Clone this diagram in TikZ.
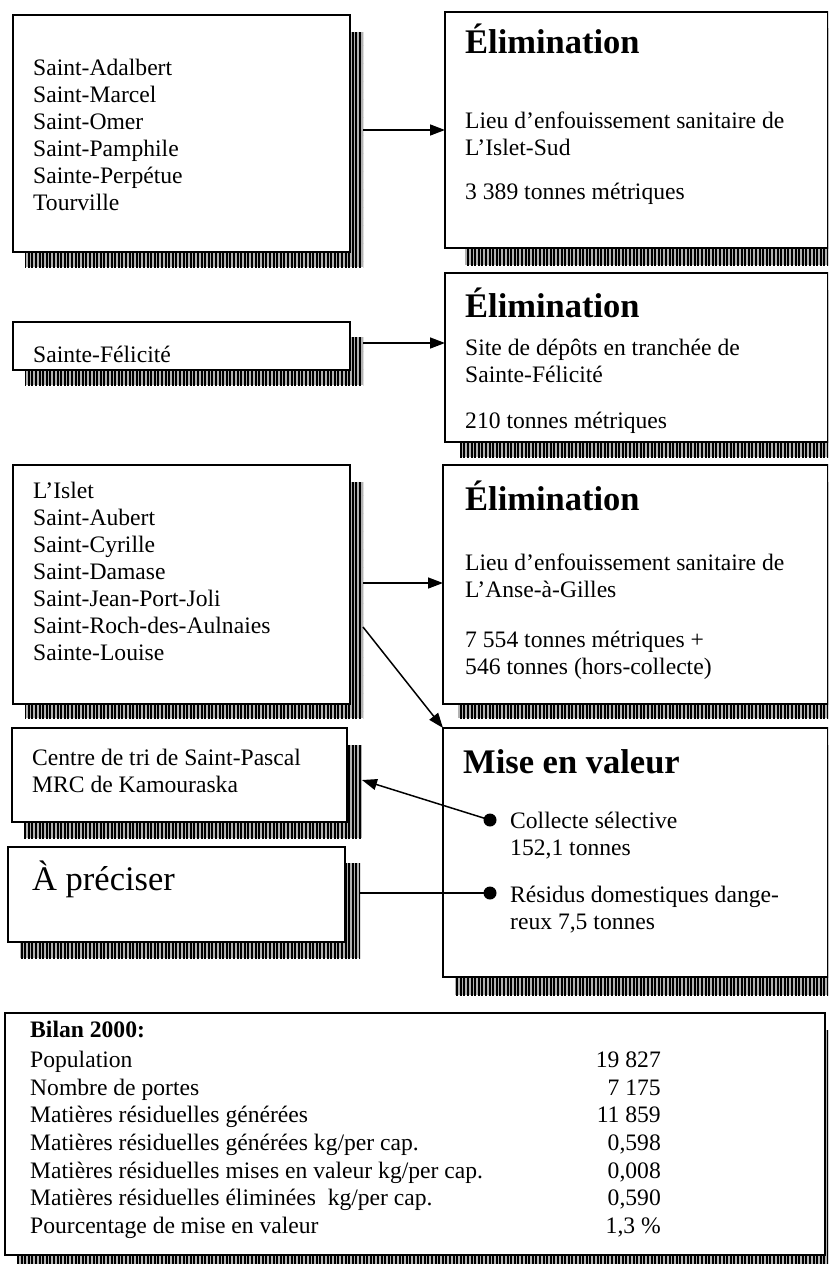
\documentclass[tikz,border=0pt]{standalone}
\usepackage{fontspec}
\setmainfont{Liberation Serif}
\usetikzlibrary{patterns.meta,arrows.meta,calc}
\begin{document}
\begin{tikzpicture}[x=1pt,y=-1pt,
  box/.style={draw=black,line width=1.8pt,fill=white,anchor=north west,inner sep=0pt,outer sep=0pt},
  shadowfill/.style={fill=black!30,postaction={pattern={Lines[angle=90,distance=3.6pt,line width=2.1pt]}}},
  body/.style={anchor=base west,inner sep=0pt,font=\fontsize{23.6}{27}\selectfont},
  ttl/.style={anchor=base west,inner sep=0pt,font=\fontsize{34.5}{40}\selectfont\bfseries},
  arr/.style={line width=1.5pt,-{Triangle[length=15pt,width=11pt]}},
  con/.style={line width=1.5pt},
  dot/.style={circle,fill=black,draw=none,inner sep=0pt,minimum size=13pt}]
\useasboundingbox (0,0) rectangle (828,1264);
\clip (0,0) rectangle (828,1264);
\fill[white] (0,0) rectangle (828,1264);

% shadows
\path[shadowfill] (25,32) rectangle (363,267);
\path[shadowfill] (25,337) rectangle (363,385);
\path[shadowfill] (25,482) rectangle (363,718);
\path[shadowfill] (24,745) rectangle (362,838);
\path[shadowfill] (20,863) rectangle (360,958);
\path[shadowfill] (465,28) rectangle (842,265);
\path[shadowfill] (460,290) rectangle (842,457);
\path[shadowfill] (458,482) rectangle (842,718);
\path[shadowfill] (455,745) rectangle (842,995);
\path[shadowfill] (17,1030) rectangle (838,1270);

% boxes
\node[box,minimum width=337pt,minimum height=237pt] (A) at (13,15) {};
\node[box,minimum width=337pt,minimum height=48pt] (B) at (13,322) {};
\node[box,minimum width=337pt,minimum height=239pt] (C) at (13,465) {};
\node[box,minimum width=335pt,minimum height=94pt] (D) at (12,728) {};
\node[box,minimum width=337pt,minimum height=95pt] (P) at (8,847) {};
\node[box,minimum width=383pt,minimum height=236pt] (E1) at (445,12) {};
\node[box,minimum width=383pt,minimum height=169pt] (E2) at (445,273) {};
\node[box,minimum width=385pt,minimum height=239pt] (E3) at (443,465) {};
\node[box,minimum width=385pt,minimum height=249pt] (MV) at (443,728) {};
\node[box,minimum width=820pt,minimum height=242pt] (BI) at (5,1013) {};

% texts
\node[body] (tA) at (33,75) {\parbox[t]{300pt}{Saint-Adalbert\\Saint-Marcel\\Saint-Omer\\Saint-Pamphile\\Sainte-Perpétue\\Tourville}};
\node[body] (tB) at (33,362) {Sainte-Félicité};
\node[body] (tC) at (33,498) {\parbox[t]{300pt}{L’Islet\\Saint-Aubert\\Saint-Cyrille\\Saint-Damase\\Saint-Jean-Port-Joli\\Saint-Roch-des-Aulnaies\\Sainte-Louise}};
\node[body] (tD) at (32,765) {\parbox[t]{300pt}{Centre de tri de Saint-Pascal\\MRC de Kamouraska}};
\node[body,font=\fontsize{34.5}{40}\selectfont] (tP) at (32,890) {À préciser};

\node[ttl] (h1) at (465,53) {Élimination};
\node[body] (t1a) at (465,128) {\parbox[t]{360pt}{Lieu d’enfouissement sanitaire de\\L’Islet-Sud}};
\node[body] (t1b) at (465,199) {3 389 tonnes métriques};

\node[ttl] (h2) at (465,317) {Élimination};
\node[body] (t2a) at (465,355) {\parbox[t]{360pt}{Site de dépôts en tranchée de\\Sainte-Félicité}};
\node[body] (t2b) at (465,428) {210 tonnes métriques};

\node[ttl] (h3) at (465,510) {Élimination};
\node[body] (t3a) at (465,570) {\parbox[t]{360pt}{Lieu d’enfouissement sanitaire de\\L’Anse-à-Gilles}};
\node[body] (t3b) at (465,647) {\parbox[t]{360pt}{7 554 tonnes métriques +\\546 tonnes (hors-collecte)}};

\node[ttl] (h4) at (463,773) {Mise en valeur};
\node[dot] (b1) at (490,820) {};
\node[dot] (b2) at (490,893) {};
\node[body] (t4a) at (510,828) {\parbox[t]{310pt}{Collecte sélective\\152,1 tonnes}};
\node[body] (t4b) at (510,902) {\parbox[t]{310pt}{Résidus domestiques dange-\\reux 7,5 tonnes}};

\node[body,font=\fontsize{23.6}{27.6}\selectfont] (tBL) at (30,1037) {\parbox[t]{560pt}{\textbf{Bilan 2000:}\\[3pt]Population\\Nombre de portes\\Matières résiduelles générées\\Matières résiduelles générées kg/per cap.\\Matières résiduelles mises en valeur kg/per cap.\\Matières résiduelles éliminées\ \ kg/per cap.\\Pourcentage de mise en valeur}};
\node[body,anchor=base east,font=\fontsize{23.6}{27.6}\selectfont] (tBR) at (661,1067.6) {\parbox[t]{150pt}{\raggedleft 19 827\\7 175\\11 859\\0,598\\0,008\\0,590\\1,3 \%}};

% connectors
\coordinate (s1) at (363,130);
\coordinate (s2) at (363,343);
\coordinate (s3) at (363,583);
\coordinate (s4) at (363,627);
\coordinate (s5) at (362,780);
\coordinate (s6) at (360,893);
\draw[arr] (s1) -- (s1 -| E1.west);
\draw[arr] (s2) -- (s2 -| E2.west);
\draw[arr] (s3) -- (s3 -| E3.west);
\draw[arr] (s4) -- (MV.north west);
\draw[arr] (b1.center) -- (s5);
\draw[con] (s6) -- (b2.center);
\end{tikzpicture}
\end{document}
